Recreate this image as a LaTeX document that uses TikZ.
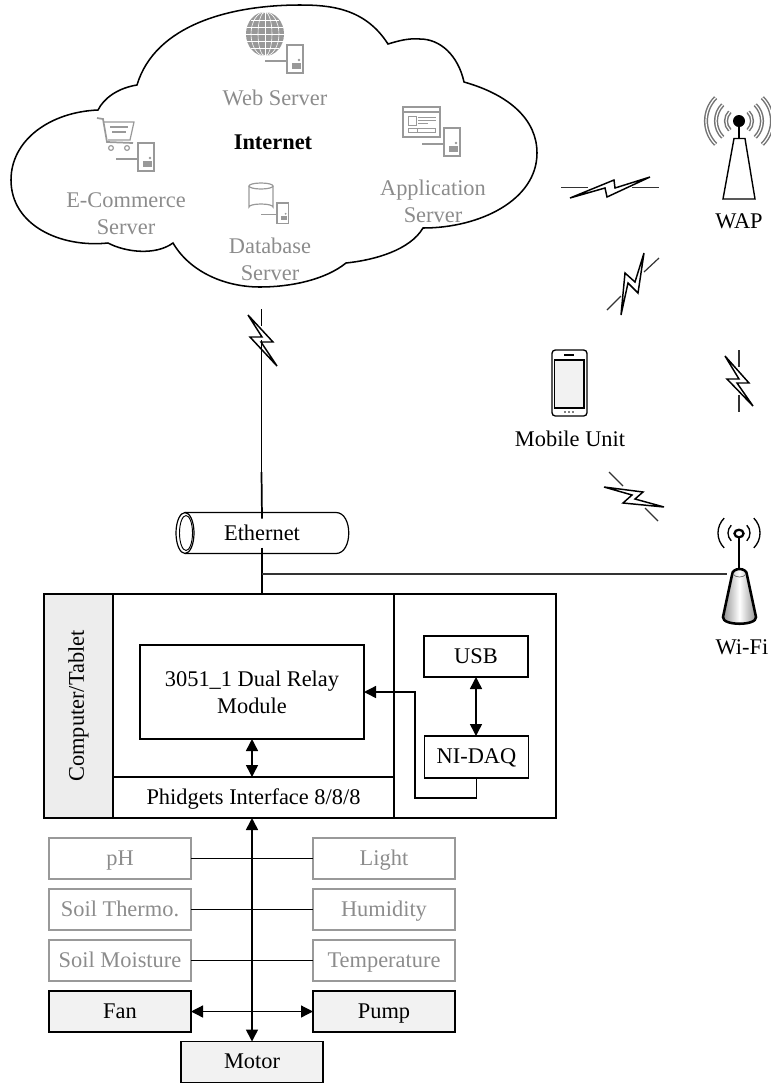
\documentclass[tikz,border=0pt]{standalone}
\usepackage{fontspec}
\setmainfont{Liberation Serif}
\usetikzlibrary{arrows.meta}
\definecolor{gtx}{HTML}{8C8C8C}
\definecolor{gln}{HTML}{999999}
\definecolor{pan}{HTML}{EDEDED}
\definecolor{pal}{HTML}{F2F2F2}
\tikzset{
  every node/.style={inner sep=0pt,outer sep=0pt,font=\fontsize{16.8}{20.25}\selectfont,align=center},
  blk/.style={draw=black,line width=1.1pt},
  fixt/.style={text height=13pt,text depth=2.8pt},
  gbox/.style={draw=gln,line width=1.1pt,text=gtx,minimum width=106.5pt,minimum height=30.75pt,fixt},
  abox/.style={draw=black,line width=1.2pt,fill=pal,minimum width=106.5pt,minimum height=30.75pt,fixt},
  gtext/.style={text=gtx},
  conn/.style={line width=1.05pt},
  darrow/.style={line width=1.1pt,{Triangle[length=9pt,width=9pt]}-{Triangle[length=9pt,width=9pt]}},
  sarrow/.style={line width=1pt,-{Triangle[length=9pt,width=9pt]}},
  bolt/.style={line width=1.1pt,line join=miter},
  lead/.style={line width=.9pt,black!80},
  icon/.style={draw=gln,line width=.9pt},
  srv/.pic={
    \draw[icon] (0,0) rectangle (16,28);
    \draw[icon] (0,16) -- (-22,16);
    \fill[gln] (5,18) rectangle (14,24);
    \fill[gln] (12,15) circle (1.4);
  },
  wave/.style={draw=black!55,line width=1.1pt,double=white,double distance=.9pt},
}
\begin{document}
\begin{tikzpicture}[x=0.75pt,y=-0.75pt]
\useasboundingbox (0,0) rectangle (771,1083);
% cloud
\draw[line width=1.15pt,line join=miter] (388,44)
  .. controls (365,8) and (330,5) .. (300,5)
  .. controls (230,5) and (155,25) .. (137,85)
  .. controls (118,88) and (104,98) .. (98,110)
  .. controls (50,112) and (11,140) .. (11,180)
  .. controls (11,225) and (60,248) .. (108,243)
  .. controls (125,252) and (155,256) .. (173,243)
  .. controls (190,272) and (225,287) .. (260,287)
  .. controls (290,287) and (325,280) .. (346,263)
  .. controls (375,260) and (410,250) .. (423,228)
  .. controls (480,228) and (537,200) .. (537,153)
  .. controls (537,120) and (510,95) .. (464,82)
  .. controls (458,55) and (440,39) .. (420,39)
  .. controls (408,38) and (398,41) .. (388,44) -- cycle;
% globe
\fill[gln] (265,34) ellipse [x radius=19,y radius=22];
\begin{scope}[white,line width=.45pt]
  \draw (265,12) -- (265,56);
  \draw (265,34) ellipse [x radius=7,y radius=22];
  \draw (265,34) ellipse [x radius=14,y radius=22];
  \foreach \yy/\xx in {20/14,27/18,34/19,41/18,48/14} \draw (265-\xx,\yy) -- (265+\xx,\yy);
\end{scope}
\pic at (287,45) {srv};
% cart
\draw[icon,line width=1.3pt] (97,118) -- (103,119) -- (107,142) -- (133,143);
\draw[icon] (104,122) -- (134,122) -- (130,140) -- (108,140);
\draw[icon] (110,127) -- (128,127) (112,132) -- (126,132);
\draw[icon] (111,148) circle (2.4) (127,148) circle (2.4);
\pic at (138,143) {srv};
% database
\draw[icon] (249,186) -- (249,207) arc[start angle=180,end angle=360,x radius=12,y radius=3] -- (273,186);
\draw[icon] (261,186) ellipse [x radius=12,y radius=3];
\pic[scale=.72] at (277,203) {srv};
% application window
\draw[icon] (403,107) rectangle (440,137);
\draw[icon] (403,112) -- (440,112);
\draw[icon,line width=.7pt] (408,116) rectangle (416,125);
\draw[icon,line width=.7pt] (418,117) -- (436,117) (418,120) -- (436,120) (418,123) -- (428,123);
\draw[icon,line width=.7pt] (408,128) rectangle (435,132) (417,128) -- (417,132);
\pic at (444,128) {srv};
% cloud texts
\node[gtext] (web) at (275,98) {Web Server};
\node[font=\fontsize{16.8}{20.25}\selectfont\bfseries] (inet) at (273,142) {Internet};
\node[gtext] (ecom) at (126,213.5) {E-Commerce\\Server};
\node[gtext] (dbs) at (270,259.5) {Database\\Server};
\node[gtext] (app) at (433,201.5) {Application\\Server};
% top-left link bolt
\coordinate (cloudb) at (261.5,309);
\coordinate (gapa) at (261.5,326);
\coordinate (gapb) at (261.5,340);
\coordinate (thick) at (261.5,472);
% ethernet
\node (eth) at (262,533) [minimum width=100pt,minimum height=21.75pt] {Ethernet};
\draw[line width=.9pt] (185,512.5) -- (336,512.5) .. controls (353,512.5) and (353,553.5) .. (336,553.5) -- (185,553.5);
\draw[line width=.9pt] (185,533) ellipse [x radius=9,y radius=20.5];
\draw[line width=.7pt] (186,533) ellipse [x radius=6.5,y radius=17.5];
\draw[line width=.85pt] (cloudb) -- (gapa) (gapb) -- (thick);
\draw[line width=1.3pt] (thick) -- (eth.north);
\draw[bolt] (248,315) -- (273,342) -- (261,342) -- (277,366) -- (250,337) -- (262,337) -- cycle;
% computer
\node[blk,minimum width=384pt,minimum height=168pt] (comp) at (300,706) {};
\node[blk,fill=pan,rotate=90,minimum width=168pt,minimum height=51.75pt] (side) at (78.5,706) {Computer/Tablet};
\node[blk,minimum width=210.75pt,minimum height=168pt] (mid) at (253.5,706) {};
\node[blk,minimum width=210.75pt,minimum height=30.75pt,fixt] (phid) at (253.5,797.5) {Phidgets Interface 8/8/8};
\node[blk,minimum width=168pt,minimum height=70.5pt] (relay) at (252,692) {3051\_1 Dual Relay\\Module};
\node[blk,minimum width=78pt,minimum height=30.75pt,fixt] (usb) at (476,656.5) {USB};
\node[blk,minimum width=78pt,minimum height=31.5pt,fixt] (nidaq) at (476.5,757) {NI-DAQ};
\coordinate (turn) at (415,798);
\draw[sarrow] (nidaq.south) |- (turn) |- (relay.east);
\draw[darrow] (usb.south) -- (usb.south |- nidaq.north);
\draw[darrow] (relay.south) -- (relay.south |- phid.north);
% ethernet down, wifi line
\draw[line width=1.3pt] (eth.south) -- (eth.south |- comp.north);
\coordinate (junc) at (262,574);
\coordinate (wifil) at (727,574);
\draw[line width=1pt,black!80] (junc) -- (wifil);
% sensors
\node[gbox] (ph) at (120,858.5) {pH};
\node[gbox] (soilt) at (120,909.5) {Soil Thermo.};
\node[gbox] (soilm) at (120,960.5) {Soil Moisture};
\node[gbox] (light) at (384,858.5) {Light};
\node[gbox] (hum) at (384,909.5) {Humidity};
\node[gbox] (temp) at (384,960.5) {Temperature};
\node[abox] (fan) at (120,1011.5) {Fan};
\node[abox] (pump) at (384,1011.5) {Pump};
\node[abox] (motor) at (252,1062) {Motor};
\draw[conn] (ph.east) -- (light.west);
\draw[conn] (soilt.east) -- (hum.west);
\draw[conn] (soilm.east) -- (temp.west);
\draw[darrow,line width=.95pt] (fan.east) -- (pump.west);
\draw[darrow,line width=1.2pt] (motor.north) -- (motor.north |- comp.south);
% WAP
\fill (739,121) circle (6);
\draw[line width=1.8pt] (739,121) -- (739,138);
\draw[line width=1.05pt,line join=miter] (734,138.5) -- (745,138.5) -- (755,199) -- (723,199) -- cycle;
\foreach \rr in {13,23,33}{
  \draw[wave] (739,121) ++(135:\rr) arc[start angle=135,end angle=225,radius=\rr];
  \draw[wave] (739,121) ++(45:\rr) arc[start angle=45,end angle=-45,radius=\rr];
}
\node (wap) at (739,221) {WAP};
% bolts
\draw[lead] (561,187.5) -- (588,187.5) (632,187.5) -- (659,187.5);
\draw[bolt] (570,198) -- (614,180) -- (615,188) -- (650,177) -- (607,197) -- (605,188) -- cycle;
\draw[lead] (659,258) -- (644,272) (607,310) -- (621,296);
\draw[bolt] (644,253) -- (638,293) -- (628,283) -- (621,315) -- (625,273) -- (635,282) -- cycle;
\draw[lead] (739,350) -- (739,367) (739,395) -- (739,412);
\draw[bolt] (725,356) -- (749,383) -- (737,383) -- (753,406) -- (727,379) -- (739,379) -- cycle;
\draw[lead] (609,472) -- (623,486) (645,508) -- (658,521);
\draw[bolt] (604,487) -- (643,492) -- (635,499) -- (664,507) -- (623,503) -- (632,495) -- cycle;
% mobile
\draw[line width=1pt,rounded corners=2.5pt] (552,350) rectangle (587,416);
\draw[line width=.9pt,fill=pal] (554.5,360) rectangle (584,408);
\draw[line width=1pt] (564,355) -- (574,355);
\fill (565,412) circle (.9) (569,412) circle (.9) (573,412) circle (.9);
\node (mob) at (570,439) {Mobile Unit};
% wifi
\draw[line width=1.9pt,left color=black!45,right color=black!45,middle color=white]
  (732,575) .. controls (732,567) and (747,567) .. (747,575) -- (756,617)
  .. controls (757,626) and (722,626) .. (723,617) -- cycle;
\draw[line width=.5pt,black!60] (733,574) .. controls (735,578) and (744,578) .. (746,574);
\draw[line width=1.9pt] (739,568) -- (739,538);
\draw[line width=1.7pt,fill=white] (739,533.5) ellipse [x radius=4.5,y radius=3.8];
\foreach \rr in {11,21}{
  \draw[line width=1pt] (739,533) ++(135:\rr) arc[start angle=135,end angle=225,radius=\rr];
  \draw[line width=1pt] (739,533) ++(45:\rr) arc[start angle=45,end angle=-45,radius=\rr];
}
\node (wifi) at (742,647) {Wi-Fi};
\end{tikzpicture}
\end{document}
